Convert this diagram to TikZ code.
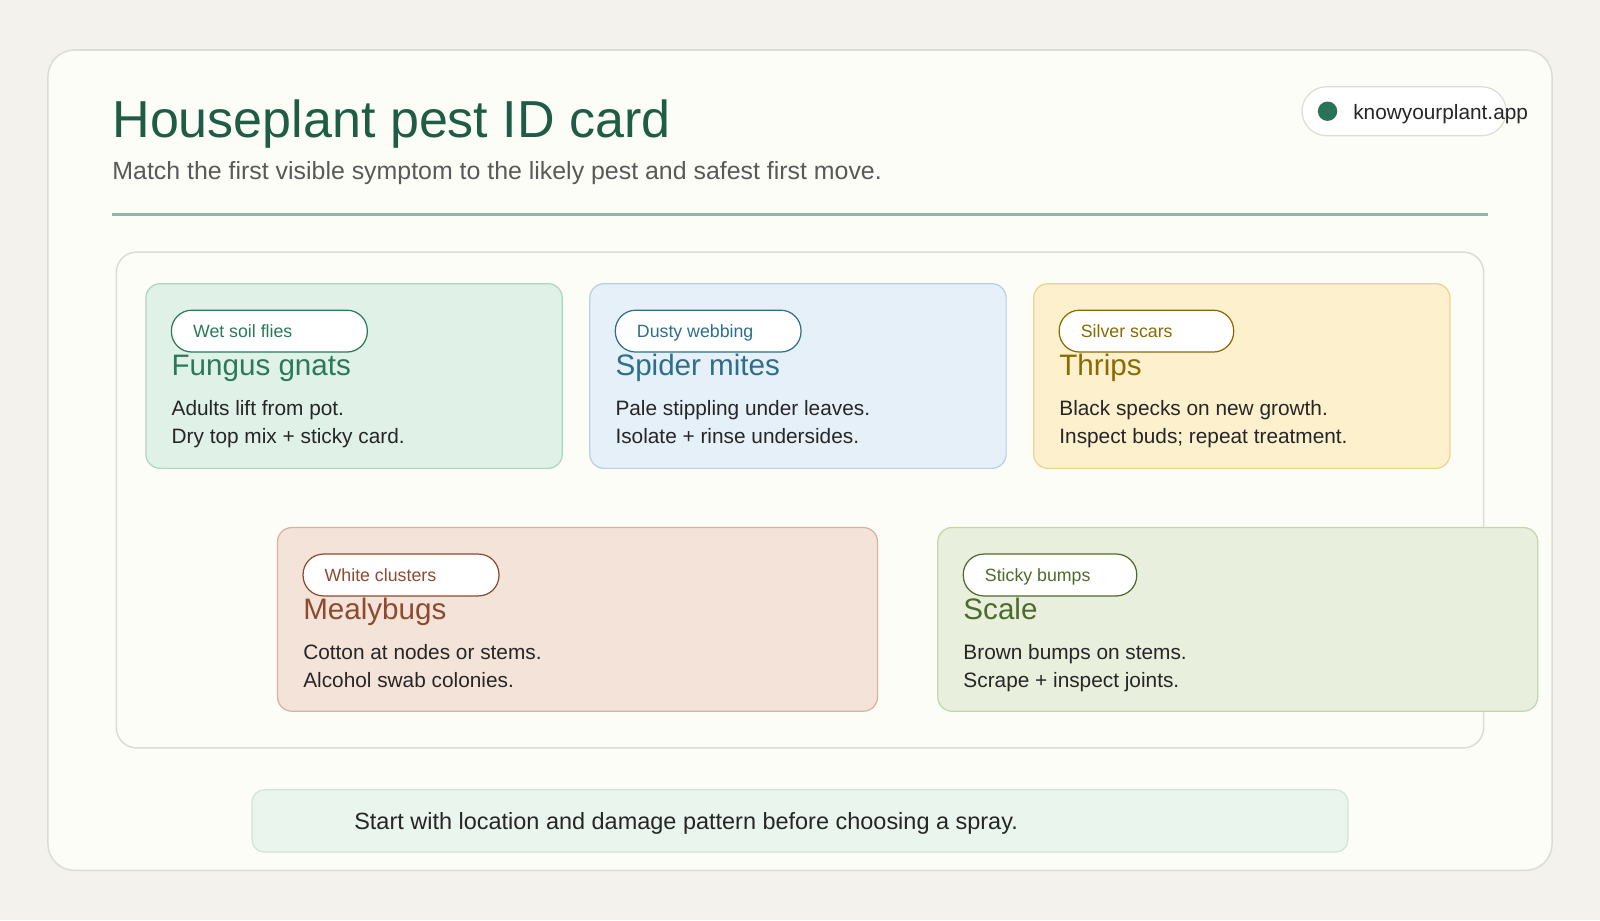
\documentclass[tikz,border=0pt]{standalone}
\usepackage{fontspec}
\setmainfont{Liberation Sans}
\definecolor{bg}{HTML}{F3F2EC}
\definecolor{cardbg}{HTML}{FDFDF8}
\definecolor{edge}{HTML}{DDDDD5}
\definecolor{ink}{HTML}{1F5C45}
\definecolor{gfill}{HTML}{E0F1E8}\definecolor{gline}{HTML}{A9D7C0}\definecolor{gtext}{HTML}{2A7A5A}
\definecolor{bfill}{HTML}{E6F0F8}\definecolor{bline}{HTML}{B5D0E5}\definecolor{btext}{HTML}{2D6E8A}
\definecolor{yfill}{HTML}{FDF0CD}\definecolor{yline}{HTML}{EBD48A}\definecolor{ytext}{HTML}{8A6A00}
\definecolor{pfill}{HTML}{F4E3D9}\definecolor{pline}{HTML}{D9B1A0}\definecolor{ptext}{HTML}{8E4A2E}
\definecolor{sfill}{HTML}{E8EFDD}\definecolor{sline}{HTML}{C3D6B0}\definecolor{stext}{HTML}{4D6B2A}
\tikzset{
  txt/.style={anchor=base west,inner sep=0pt},
  body/.style={txt,font=\fontsize{20.4}{24}\selectfont,text=black!85},
  cardtitle/.style={txt,font=\fontsize{29}{32}\selectfont},
  tag/.style={txt,font=\fontsize{17.4}{20}\selectfont}
}
% one pest card: x0,y0,x1,y1, colour prefix, pill width, tag, title, line 1
\newcommand{\pestcard}[9]{
  \draw[#5line,fill=#5fill,line width=1.2pt,rounded corners=14pt] (#1,#2) rectangle (#3,#4);
  \draw[#5text,fill=white,line width=1.2pt,rounded corners=20pt] (#1+25,#2+26) rectangle (#1+25+#6,#2+67);
  \node[tag,text=#5text] at (#1+46,#2+53) {#7};
  \node[cardtitle,text=#5text] at (#1+25,#2+90) {#8};
  \node[body] at (#1+25,#2+129) {#9};
}
\newcommand{\bodytwo}[3]{\node[body] at (#1,#2) {#3};}
\begin{document}
\begin{tikzpicture}[x=1pt,y=-1pt]
\fill[bg] (0,0) rectangle (1568,902);
\useasboundingbox (0,0) rectangle (1568,902);
\draw[edge,fill=cardbg,line width=1.5pt,rounded corners=26pt] (47,49) rectangle (1521,853);
\node[txt,text=ink,font=\fontsize{51}{56}\selectfont] (title) at (110,135) {Houseplant pest ID card};
\node[txt,text=black!65,font=\fontsize{24.4}{28}\selectfont] (subtitle) at (110,176) {Match the first visible symptom to the likely pest and safest first move.};
\draw[color={rgb,255:red,141;green,184;blue,168},line width=3pt] (110,210) -- (1458,210);
% site badge
\draw[edge,fill=white,line width=1.2pt,rounded corners=24pt] (1276,85) rectangle (1476,133);
\fill[color={rgb,255:red,42;green,115;blue,88}] (1301,109) circle (9.5);
\node[txt,text=black!85,font=\fontsize{20.4}{24}\selectfont] (site) at (1326,117) {knowyourplant.app};
% panel
\draw[edge,fill=cardbg,line width=1.5pt,rounded corners=20pt] (114,247) rectangle (1454,733);
\pestcard{143}{278}{551}{459}{g}{192}{Wet soil flies}{Fungus gnats}{Adults lift from pot.}
\bodytwo{168}{435}{Dry top mix + sticky card.}
\pestcard{578}{278}{986}{459}{b}{182}{Dusty webbing}{Spider mites}{Pale stippling under leaves.}
\bodytwo{603}{435}{Isolate + rinse undersides.}
\pestcard{1013}{278}{1421}{459}{y}{171}{Silver scars}{Thrips}{Black specks on new growth.}
\bodytwo{1038}{435}{Inspect buds; repeat treatment.}
\pestcard{272}{517}{860}{697}{p}{192}{White clusters}{Mealybugs}{Cotton at nodes or stems.}
\bodytwo{297}{674}{Alcohol swab colonies.}
\pestcard{919}{517}{1507}{697}{s}{170}{Sticky bumps}{Scale}{Brown bumps on stems.}
\bodytwo{944}{674}{Scrape + inspect joints.}
% footer
\draw[color={rgb,255:red,207;green,230;blue,216},fill={rgb,255:red,234;green,245;blue,238},line width=1.2pt,rounded corners=12pt] (247,774) rectangle (1321,835);
\node[txt,text=black!85,font=\fontsize{23}{26}\selectfont] (tip) at (347,813) {Start with location and damage pattern before choosing a spray.};
\end{tikzpicture}
\end{document}
